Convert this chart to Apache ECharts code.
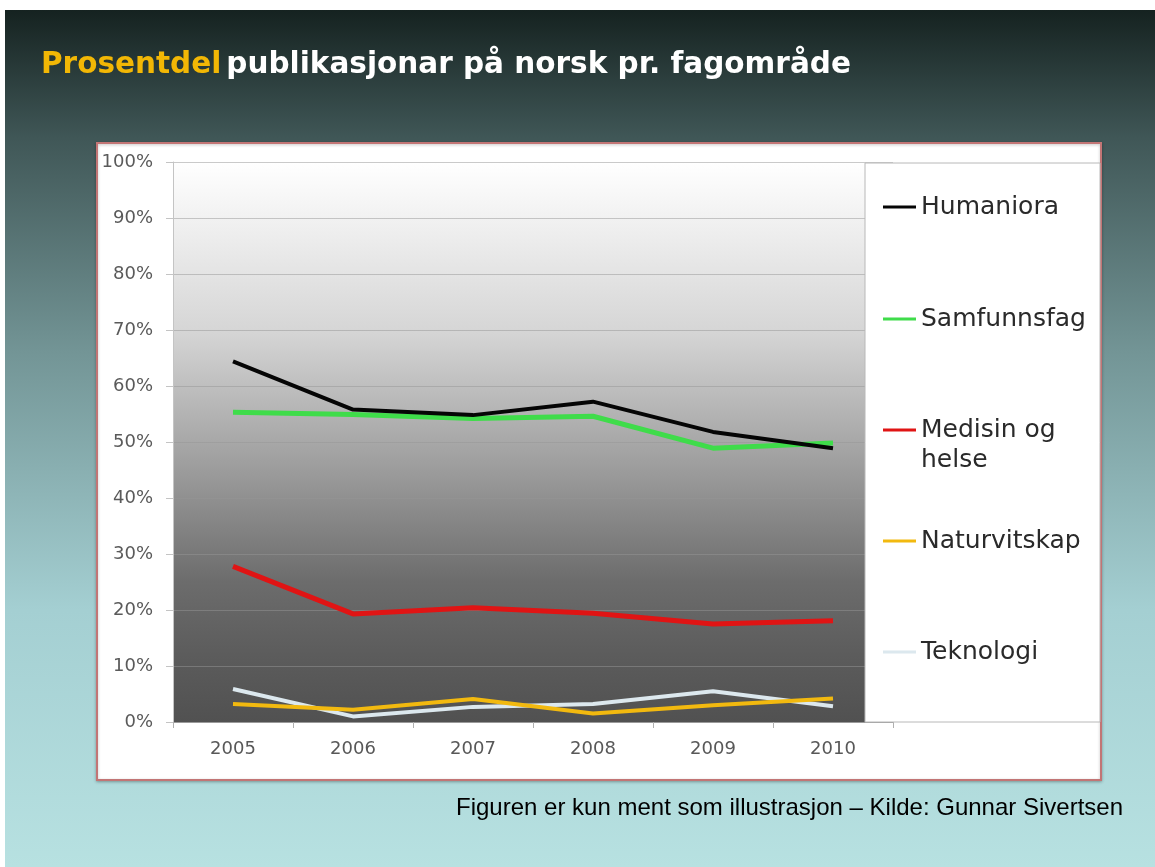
<!DOCTYPE html>
<html>
<head>
<meta charset="utf-8">
<script src="https://cdn.jsdelivr.net/npm/echarts@6/dist/echarts.min.js"></script>
<style>
  html, body { margin: 0; padding: 0; background: #fff; }
  #main { width: 1155px; height: 867px; }
</style>
</head>
<body>
<div id="main"></div>
<script>
// years on the x axis
var years = ['2005', '2006', '2007', '2008', '2009', '2010'];
// share of publications in Norwegian (%), per field
var humaniora = [64.4, 55.8, 54.8, 57.2, 51.8, 48.9];
var samfunnsfag = [55.3, 54.9, 54.2, 54.6, 48.9, 49.8];
var medisin = [27.8, 19.3, 20.4, 19.4, 17.5, 18.1];
var naturvitskap = [3.2, 2.2, 4.1, 1.5, 3.0, 4.2];
var teknologi = [5.9, 1.0, 2.7, 3.2, 5.5, 2.8];
var yTicks = [0, 10, 20, 30, 40, 50, 60, 70, 80, 90, 100];

var dom = document.getElementById('main');
var myChart = echarts.init(dom, null, { renderer: 'canvas' });

function oneLegend(name, top, fmt) {
    var l = {
        data: [name],
        orient: 'vertical',
        left: 878,
        top: top,
        itemWidth: 33,
        itemHeight: 3,
        icon: 'rect',
        selectedMode: false,
        textStyle: { fontFamily: 'DejaVu Sans', fontSize: 25, color: '#2a2a2a', lineHeight: 30 }
    };
    if (fmt) l.formatter = fmt;
    return l;
}

var option = {
    backgroundColor: '#ffffff',
    animation: false,
    title: {
        left: 36,
        top: 45,
        text: '{a|Prosentdel} {b|publikasjonar på norsk pr. fagområde}',
        textStyle: {
            rich: {
                a: { fontFamily: 'DejaVu Sans', fontWeight: 'bold', fontSize: 29.5, color: '#f2b705' },
                b: { fontFamily: 'DejaVu Sans', fontWeight: 'bold', fontSize: 29.5, color: '#ffffff' }
            }
        }
    },
    graphic: [
        {
            type: 'rect', z: -10, silent: true,
            shape: { x: 5, y: 10, width: 1150, height: 857 },
            style: {
                fill: new echarts.graphic.LinearGradient(0, 0, 0, 1, [
                    { offset: 0, color: '#152220' },
                    { offset: 0.15, color: '#405757' },
                    { offset: 0.4, color: '#739596' },
                    { offset: 0.7, color: '#a4cfd2' },
                    { offset: 1, color: '#b7e1e1' }
                ])
            }
        },
        {
            type: 'rect', z: -5, silent: true,
            shape: { x: 97, y: 143, width: 1004, height: 637 },
            style: { fill: '#ffffff', stroke: '#c27575', lineWidth: 2, shadowBlur: 3, shadowColor: 'rgba(0,0,0,0.25)', shadowOffsetY: 1 }
        },
        {
            type: 'rect', z: 3, silent: true,
            shape: { x: 865, y: 163, width: 235, height: 559 },
            style: { fill: '#ffffff', stroke: '#b8b8b8', lineWidth: 1 }
        },
        {
            type: 'text', x: 1123, y: 796, silent: true,
            style: {
                text: 'Figuren er kun ment som illustrasjon – Kilde: Gunnar Sivertsen',
                textAlign: 'right',
                fontFamily: 'Liberation Sans', fontSize: 24, fill: '#000000'
            }
        }
    ],
    legend: [
        oneLegend('Humaniora', 187),
        oneLegend('Samfunnsfag', 299),
        oneLegend('Medisin og helse', 380, function () { return ' \nMedisin og\nhelse'; }),
        oneLegend('Naturvitskap', 521),
        oneLegend('Teknologi', 632)
    ],
    grid: {
        left: 173,
        top: 162,
        width: 720,
        height: 560,
        show: true,
        borderWidth: 0,
        backgroundColor: new echarts.graphic.LinearGradient(0, 0, 0, 1, [
            { offset: 0, color: '#ffffff' },
            { offset: 0.3, color: '#d6d6d6' },
            { offset: 0.55, color: '#9c9c9c' },
            { offset: 0.75, color: '#6c6c6c' },
            { offset: 0.88, color: '#5c5c5c' },
            { offset: 1, color: '#515151' }
        ])
    },
    xAxis: {
        type: 'category',
        data: years,
        boundaryGap: true,
        axisLine: { lineStyle: { color: '#9a9a9a', width: 1 } },
        axisTick: { show: true, length: 6, lineStyle: { color: '#b0b0b0' } },
        axisLabel: { margin: 18, fontFamily: 'DejaVu Sans', fontSize: 18, color: '#585858' }
    },
    yAxis: {
        type: 'value',
        min: yTicks[0],
        max: yTicks[yTicks.length - 1],
        interval: 10,
        axisLine: { show: true, lineStyle: { color: '#c4c4c4', width: 1 } },
        axisTick: { show: true, length: 7, lineStyle: { color: '#c4c4c4' } },
        splitLine: { lineStyle: { color: 'rgba(150,150,150,0.5)', width: 1.2 } },
        axisLabel: { margin: 20, fontFamily: 'DejaVu Sans', fontSize: 18, color: '#5a5a5a', formatter: '{value}%' }
    },
    series: [
        { name: 'Humaniora', type: 'line', data: humaniora, showSymbol: false, z: 6, color: '#050505', lineStyle: { width: 4 } },
        { name: 'Samfunnsfag', type: 'line', data: samfunnsfag, showSymbol: false, z: 5, color: '#3fdc4a', lineStyle: { width: 5 } },
        { name: 'Medisin og helse', type: 'line', data: medisin, showSymbol: false, z: 4, color: '#e01414', lineStyle: { width: 5 } },
        { name: 'Naturvitskap', type: 'line', data: naturvitskap, showSymbol: false, z: 3, color: '#f2b90f', lineStyle: { width: 4 } },
        { name: 'Teknologi', type: 'line', data: teknologi, showSymbol: false, z: 2, color: '#dce8ee', lineStyle: { width: 4 } }
    ]
};

if (option && typeof option === 'object') {
    myChart.setOption(option, true);
}
</script>
</body>
</html>
